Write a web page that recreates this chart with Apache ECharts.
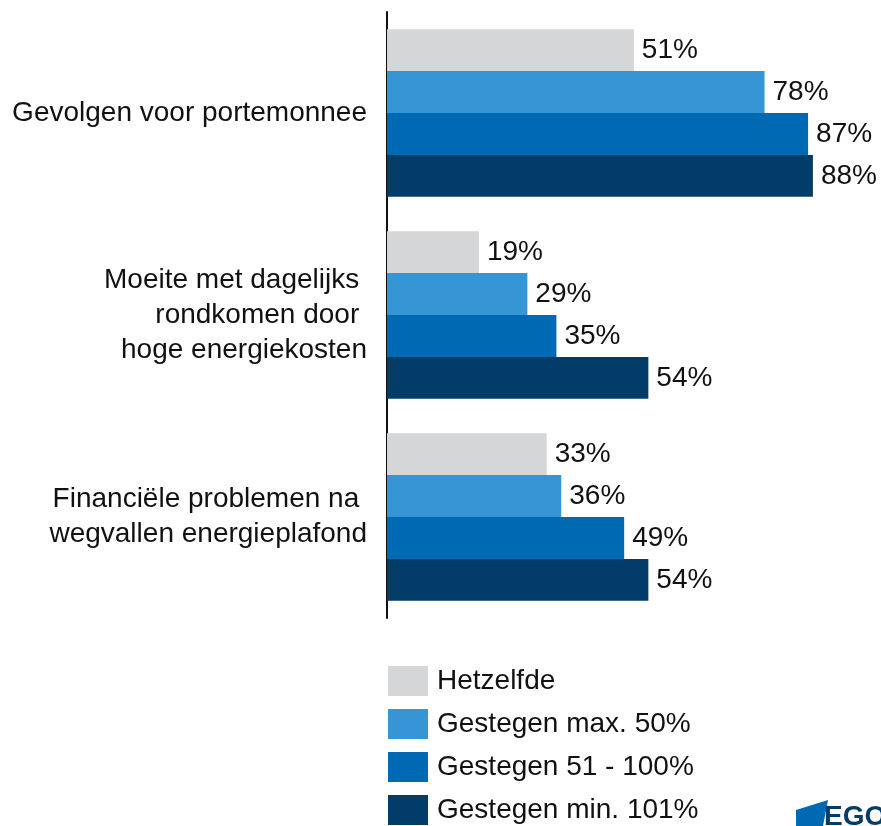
<!DOCTYPE html>
<html>
<head>
<meta charset="utf-8">
<script src="https://cdn.jsdelivr.net/npm/echarts@6/dist/echarts.min.js"></script>
<style>
  html, body { margin: 0; padding: 0; background: #fff; }
  #chart { width: 881px; height: 826px; }
</style>
</head>
<body>
<div id="chart"></div>
<script>
const categories = [
  'Gevolgen voor portemonnee',
  'Moeite met dagelijks \nrondkomen door \nhoge energiekosten',
  'Financiële problemen na \nwegvallen energieplafond'
];
const seriesNames = ['Hetzelfde', 'Gestegen max. 50%', 'Gestegen 51 - 100%', 'Gestegen min. 101%'];
const hetzelfde = [51, 19, 33];
const max50 = [78, 29, 36];
const tot100 = [87, 35, 49];
const min101 = [88, 54, 54];
const colors = ['#d5d6d8', '#3696d5', '#0069b4', '#023c68'];

const font = 'Liberation Sans, Arial, Helvetica, sans-serif';
const chart = echarts.init(document.getElementById('chart'));

function makeSeries(name, data) {
  return {
    name: name,
    type: 'bar',
    data: data,
    barGap: '0%',
    barCategoryGap: '17%',
    label: {
      show: true,
      position: 'right',
      distance: 8,
      formatter: '{c}%',
      color: '#111',
      fontSize: 28,
      fontFamily: font
    }
  };
}

const option = {
  animation: false,
  color: colors,
  grid: { left: 387, right: 10, top: 12, bottom: 208, containLabel: false },
  xAxis: {
    type: 'value',
    min: 0,
    max: 100,
    show: false
  },
  yAxis: {
    type: 'category',
    inverse: true,
    data: categories,
    axisLine: { lineStyle: { color: '#111', width: 2 } },
    axisTick: { show: false },
    axisLabel: {
      margin: 20,
      color: '#111',
      fontSize: 28,
      lineHeight: 35,
      fontFamily: font,
      align: 'right'
    }
  },
  legend: {
    orient: 'vertical',
    left: 388,
    top: 666,
    height: 300,
    padding: 0,
    itemWidth: 40,
    itemHeight: 30,
    itemGap: 13,
    icon: 'rect',
    selectedMode: false,
    textStyle: { color: '#111', fontSize: 28, lineHeight: 30, fontFamily: font, padding: [0, 0, 0, 4] },
    data: seriesNames
  },
  graphic: [
    {
      type: 'polygon',
      shape: { points: [[796, 810], [828, 800], [823, 826], [796, 826]] },
      style: { fill: '#0069b4' }
    },
    {
      type: 'text',
      left: 824,
      top: 803,
      style: { text: 'EGO', fill: '#023c68', font: 'bold 28px ' + font }
    }
  ],
  series: [
    makeSeries(seriesNames[0], hetzelfde),
    makeSeries(seriesNames[1], max50),
    makeSeries(seriesNames[2], tot100),
    makeSeries(seriesNames[3], min101)
  ]
};

chart.setOption(option);
</script>
</body>
</html>
